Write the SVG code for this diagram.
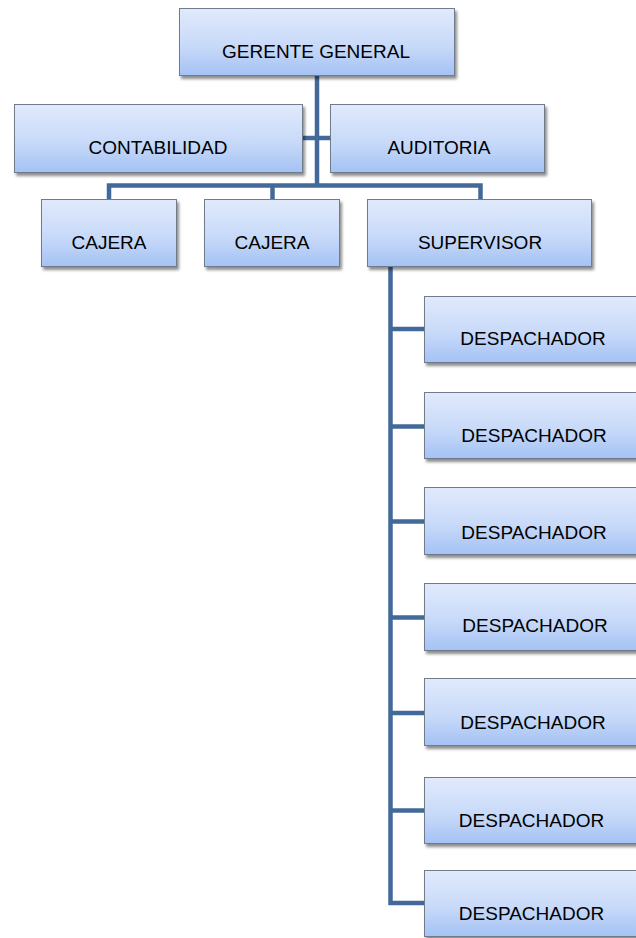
<svg xmlns="http://www.w3.org/2000/svg" width="636" height="938" viewBox="0 0 636 938">
<defs>
<linearGradient id="g" x1="0" y1="0" x2="0" y2="1">
<stop offset="0" stop-color="#e1eafc"/>
<stop offset="0.55" stop-color="#c8daf9"/>
<stop offset="1" stop-color="#a4c2f4"/>
</linearGradient>
<filter id="sh" x="-10%" y="-10%" width="125%" height="135%">
<feGaussianBlur in="SourceAlpha" stdDeviation="1.5"/>
<feOffset dx="1.5" dy="2.5" result="b"/>
<feComponentTransfer><feFuncA type="linear" slope="0.45"/></feComponentTransfer>
<feMerge><feMergeNode/><feMergeNode in="SourceGraphic"/></feMerge>
</filter>
</defs>
<style>
.box{fill:url(#g);stroke:#717b8a;stroke-width:1;filter:url(#sh)}
.t{font-family:"Liberation Sans",Arial,sans-serif;font-size:19px;fill:#000;text-anchor:middle}
.c{fill:none;stroke:#43699b;stroke-width:4.5;stroke-linejoin:miter}
</style>
<rect width="636" height="938" fill="#fff"/>
<g id="connectors">
<path class="c" d="M317 76 V185.5"/>
<path class="c" d="M302 138 H330"/>
<path class="c" d="M109 199 V185.5 H480.5 V199"/>
<path class="c" d="M272.5 185.5 V199"/>
<path class="c" d="M390.5 267 V903 H424"/>
<path class="c" d="M390.5 329 H424 M390.5 426.5 H424 M390.5 521.5 H424 M390.5 617.5 H424 M390.5 713 H424 M390.5 810.5 H424"/>
</g>
<g id="gerente"><rect class="box" x="179.5" y="8.5" width="275" height="67"/><text class="t" x="316" y="58">GERENTE GENERAL</text></g>
<g id="contabilidad"><rect class="box" x="14.5" y="104.5" width="288" height="68"/><text class="t" x="158" y="153.5">CONTABILIDAD</text></g>
<g id="auditoria"><rect class="box" x="330.5" y="104.5" width="214" height="68"/><text class="t" x="439" y="153.5">AUDITORIA</text></g>
<g id="cajera1"><rect class="box" x="41.5" y="199.5" width="135" height="67"/><text class="t" x="109" y="249">CAJERA</text></g>
<g id="cajera2"><rect class="box" x="204.5" y="199.5" width="135" height="67"/><text class="t" x="272" y="249">CAJERA</text></g>
<g id="supervisor"><rect class="box" x="367.5" y="199.5" width="224" height="67"/><text class="t" x="480" y="249">SUPERVISOR</text></g>
<g id="despachador1"><rect class="box" x="424.5" y="296.5" width="220" height="66"/><text class="t" x="533" y="345">DESPACHADOR</text></g>
<g id="despachador2"><rect class="box" x="424.5" y="392.5" width="220" height="66"/><text class="t" x="534" y="442">DESPACHADOR</text></g>
<g id="despachador3"><rect class="box" x="424.5" y="487.5" width="220" height="67"/><text class="t" x="534" y="538.5">DESPACHADOR</text></g>
<g id="despachador4"><rect class="box" x="424.5" y="583.5" width="220" height="67"/><text class="t" x="535" y="632">DESPACHADOR</text></g>
<g id="despachador5"><rect class="box" x="424.5" y="678.5" width="220" height="67"/><text class="t" x="533" y="728.5">DESPACHADOR</text></g>
<g id="despachador6"><rect class="box" x="424.5" y="777.5" width="220" height="66"/><text class="t" x="531.5" y="827">DESPACHADOR</text></g>
<g id="despachador7"><rect class="box" x="424.5" y="870.5" width="220" height="66"/><text class="t" x="531.5" y="920">DESPACHADOR</text></g>
</svg>
